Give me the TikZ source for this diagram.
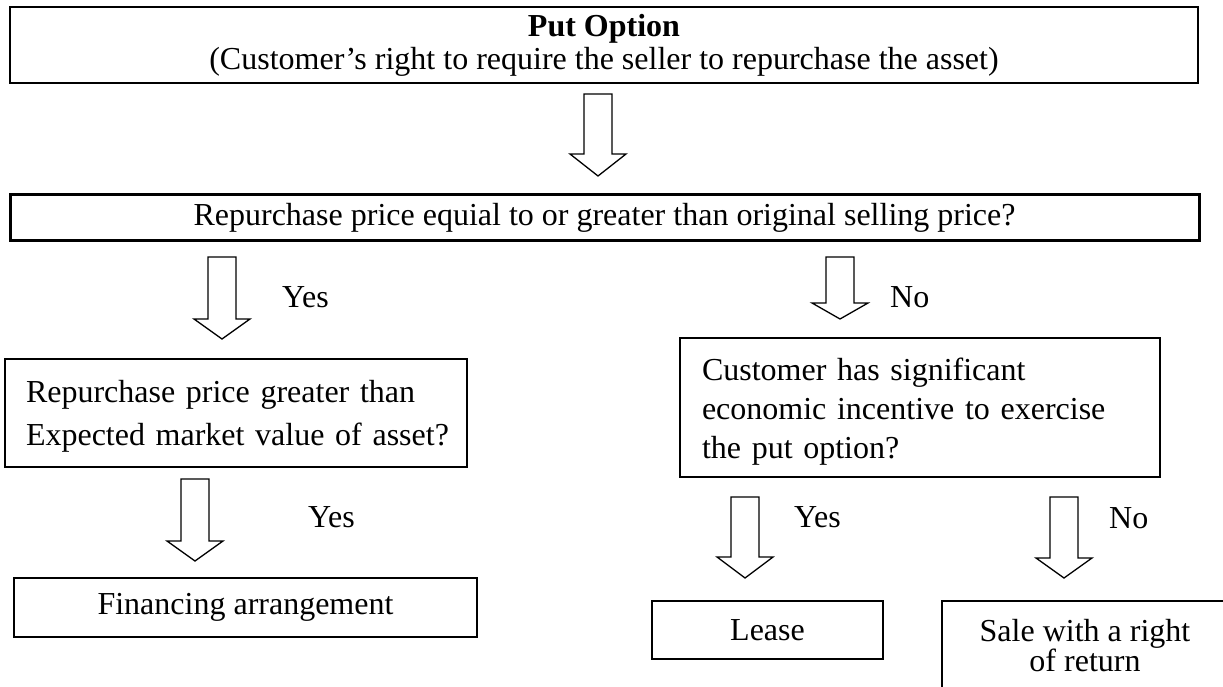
\documentclass[tikz,border=0pt]{standalone}
\usepackage{fontspec}
\setmainfont{Liberation Serif}
\newcommand\mytightlines{\lineskiplimit=-50pt\relax}
\newcommand\lline[2]{\makebox[#1][l]{#2}}
\begin{document}
\begin{tikzpicture}[x=1pt,y=-1pt,
  box/.style={draw, line width=2pt, inner sep=0pt, font=\fontsize{32}{37}\selectfont},
  lbl/.style={anchor=base west, inner sep=0pt, font=\fontsize{32}{37}\selectfont},
  arrowline/.style={draw, line width=1.3pt, line join=miter, fill=white},
  pics/blockarrow/.style 2 args={code={
    \draw[arrowline] (-14,0) -- (14,0) -- (14,{#1-#2}) -- (28,{#1-#2}) -- (0,#1)
      -- (-28,{#1-#2}) -- (-14,{#1-#2}) -- cycle;}}
]
\fill[white] (0,0) rectangle (1223,687);
\clip (0,0) rectangle (1223,687);

% boxes
\node[box, line width=2.6pt, minimum width=1188pt, minimum height=76pt, align=center,
      font={\fontsize{32}{33}\selectfont\mytightlines}] (put) at (604,45)
  {\textbf{Put Option}\\(Customer’s right to require the seller to repurchase the asset)};
\node[box, line width=3pt, minimum width=1189pt, minimum height=45pt] (q1) at (604.5,217.5)
  {Repurchase price equial to or greater than original selling price?};
\node[box, minimum width=462pt, minimum height=108pt, text width=420pt, align=left,
      text height=28pt, font={\fontsize{32}{43}\selectfont}] (q2) at (236,413)
  {\lline{420pt}{Repurchase price greater than}\\\lline{420pt}{Expected market value of asset?}};
\node[box, minimum width=480pt, minimum height=139pt, text width=436pt, align=left,
      text height=30pt, font={\fontsize{32}{39}\selectfont}] (q3) at (920,407.5)
  {\lline{436pt}{Customer has significant}\\\lline{436pt}{economic incentive to exercise}\\\lline{436pt}{the put option?}};
\node[box, minimum width=463pt, minimum height=59pt] (fin) at (245.5,607.5)
  {Financing arrangement};
\node[box, minimum width=231pt, minimum height=58pt] (lease) at (767.5,630) {Lease};
\node[box, minimum width=286pt, minimum height=90pt, align=center,
      font={\fontsize{32}{30}\selectfont\mytightlines}] (sale) at (1085,646)
  {Sale with a right\\of return};

% block arrows
\pic at (598,94) {blockarrow={82}{22}};
\pic at (222,257) {blockarrow={82}{20}};
\pic at (840,257) {blockarrow={62}{16}};
\pic at (195,479) {blockarrow={82}{20}};
\pic at (745,497) {blockarrow={81}{21}};
\pic at (1064,497) {blockarrow={81}{20}};

% labels
\node[lbl] (yes1) at (282,307) {Yes};
\node[lbl] (no1) at (890,307) {No};
\node[lbl] (yes2) at (308,527) {Yes};
\node[lbl] (yes3) at (794,527) {Yes};
\node[lbl] (no3) at (1109,528) {No};
\end{tikzpicture}
\end{document}
